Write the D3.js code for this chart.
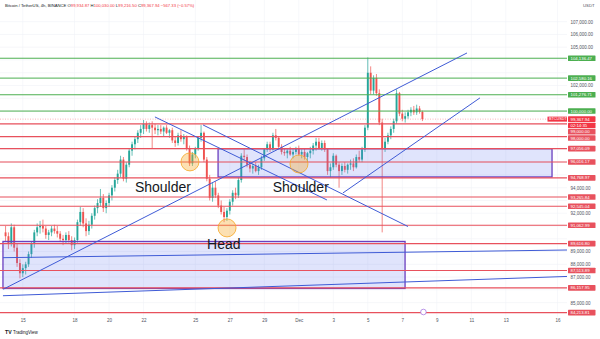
<!DOCTYPE html>
<html>
<head>
<meta charset="utf-8">
<script src="https://cdn.jsdelivr.net/npm/d3@7"></script>
<style>
  body { margin: 0; background: #fff; }
  svg text { font-family: "Liberation Sans", Arial, sans-serif; }
</style>
</head>
<body>
<div id="chart"></div>
<script>
/* BTC/USDT 4h chart, head & shoulders drawing */

const DAY = 864e5
const H4 = DAY / 6
const START = Date.UTC(2024, 10, 14) // first candle, Nov 14 00:00 UTC

// 4h candles, thousands of USDT: [open, high, low, close]
const candles = [
  // Nov 14
  [90.5,91.0,89.8,90.2],[90.2,90.5,89.2,89.6],[89.6,91.2,89.4,90.9],[90.9,91.1,89.0,89.3],[89.3,89.6,87.8,88.1],[88.1,88.4,86.9,87.3],
  // Nov 15
  [87.3,88.0,87.0,87.7],[87.7,88.2,87.2,88.0],[88.0,89.0,87.8,88.8],[88.8,89.8,88.5,89.6],[89.6,90.7,89.3,90.5],[90.5,91.2,90.2,90.9],
  // Nov 16
  [90.9,91.4,90.4,91.0],[91.0,91.5,90.5,90.8],[90.8,91.0,90.0,90.3],[90.3,90.7,89.9,90.5],[90.5,91.0,90.2,90.8],[90.8,91.1,90.4,90.6],
  // Nov 17
  [90.6,91.0,90.1,90.4],[90.4,90.6,89.8,90.0],[90.0,90.3,89.5,89.9],[89.9,90.5,89.6,90.3],[90.3,90.6,89.7,89.9],[89.9,90.2,89.1,89.5],
  // Nov 18
  [89.5,90.1,89.2,89.9],[89.9,91.5,89.7,91.3],[91.3,92.5,91.0,92.1],[92.1,92.4,90.9,91.2],[91.2,91.6,90.2,90.6],[90.6,91.4,90.3,91.1],
  // Nov 19
  [91.1,92.0,90.8,91.8],[91.8,92.6,91.5,92.4],[92.4,93.1,92.0,92.8],[92.8,93.9,92.5,93.2],[93.2,93.5,92.1,92.4],[92.4,93.0,92.0,92.8],
  // Nov 20
  [92.8,93.6,92.5,93.4],[93.4,94.2,93.0,94.0],[94.0,94.8,93.7,94.6],[94.6,95.4,94.3,95.1],[95.1,96.5,94.8,96.2],[96.2,96.4,94.5,94.7],
  // Nov 21
  [94.7,96.0,94.4,95.8],[95.8,97.1,95.6,96.9],[96.9,97.6,96.5,97.4],[97.4,98.0,97.0,97.8],[97.8,98.5,97.5,98.3],[98.3,98.9,97.9,98.6],
  // Nov 22
  [98.6,99.3,98.2,99.0],[99.0,99.2,98.4,98.6],[98.6,99.1,98.3,98.9],[98.9,99.2,97.1,98.7],[98.7,99.0,98.2,98.5],[98.5,98.9,98.1,98.6],
  // Nov 23
  [98.6,98.9,98.2,98.4],[98.4,98.8,98.0,98.7],[98.7,98.9,98.2,98.3],[98.3,98.6,97.9,98.5],[98.5,98.7,97.5,97.7],[97.7,98.0,97.2,97.5],
  // Nov 24
  [97.5,98.3,97.3,98.1],[98.1,98.5,97.6,97.8],[97.8,98.2,97.4,98.0],[98.0,98.1,96.9,97.1],[97.1,97.3,95.7,95.9],[95.9,96.8,95.7,96.6],
  // Nov 25
  [96.6,97.2,96.3,97.1],[97.1,98.0,96.9,97.9],[97.9,98.9,97.6,98.3],[98.3,98.4,96.0,96.2],[96.2,96.4,94.5,94.7],[94.7,95.0,93.0,93.2],
  // Nov 26
  [93.2,94.4,92.9,94.0],[94.0,94.5,93.2,93.4],[93.4,93.6,92.4,92.6],[92.6,93.0,91.9,92.1],[92.1,92.5,91.3,91.7],[91.7,92.4,91.4,92.2],
  // Nov 27
  [92.2,93.1,91.9,92.9],[92.9,93.8,92.6,93.6],[93.6,94.0,93.1,93.4],[93.4,94.8,93.2,94.6],[94.6,96.7,94.4,96.5],[96.5,97.0,96.1,96.4],
  // Nov 28
  [96.4,96.6,95.6,95.8],[95.8,96.1,95.2,95.5],[95.5,95.9,95.1,95.7],[95.7,96.0,95.2,95.3],[95.3,95.8,95.0,95.6],[95.6,96.5,95.4,96.3],
  // Nov 29
  [96.3,97.1,96.1,97.0],[97.0,97.6,96.8,97.4],[97.4,97.6,96.8,97.0],[97.0,98.3,96.9,98.1],[98.1,98.6,97.7,97.9],[97.9,98.0,97.0,97.2],
  // Nov 30
  [97.2,97.4,96.6,96.8],[96.8,97.1,96.5,96.7],[96.7,97.0,96.3,96.9],[96.9,97.2,96.5,96.6],[96.6,97.0,96.3,96.8],[96.8,97.2,96.6,97.0],
  // Dec 1
  [97.0,97.3,96.5,96.6],[96.6,97.0,96.3,96.8],[96.8,97.1,96.2,96.4],[96.4,96.8,96.0,96.7],[96.7,97.2,96.3,96.9],[96.9,97.5,96.6,97.3],
  // Dec 2
  [97.3,97.9,96.9,97.6],[97.6,97.9,97.0,97.1],[97.1,97.7,96.9,97.5],[97.5,97.7,96.8,97.0],[97.0,97.1,95.0,95.3],[95.3,95.9,94.8,95.6],
  // Dec 3
  [95.6,96.7,95.4,96.5],[96.5,96.6,95.6,95.8],[95.8,96.0,94.0,95.3],[95.3,95.9,95.0,95.7],[95.7,96.0,95.2,95.4],[95.4,95.9,95.1,95.8],
  // Dec 4
  [95.8,96.2,95.4,95.9],[95.9,96.3,95.3,95.6],[95.6,96.6,95.5,96.4],[96.4,96.9,96.0,96.2],[96.2,97.2,96.0,97.0],[97.0,98.9,96.8,98.7],
  // Dec 5
  [98.7,104.2,98.5,103.0],[103.0,103.5,101.3,101.6],[101.6,102.8,101.3,102.6],[102.6,102.9,101.2,101.4],[101.4,101.7,98.9,99.1],[99.1,99.4,90.5,97.1],
  // Dec 6
  [97.1,97.9,96.8,97.6],[97.6,98.3,97.4,98.1],[98.1,98.8,97.8,98.6],[98.6,99.4,98.3,99.2],[99.2,101.7,99.0,101.4],[101.4,101.5,99.6,99.8],
  // Dec 7
  [99.8,100.1,99.2,99.4],[99.4,99.9,99.1,99.6],[99.6,100.1,99.4,99.9],[99.9,100.3,99.6,100.1],[100.1,100.4,99.7,99.9],[99.9,100.5,99.7,100.2],
  // Dec 8
  [100.2,100.4,99.8,99.93],[99.93,100.03,99.216,99.368]
]

// horizontal levels (thousands)
const greenLevels = [104.13647, 102.58016, 101.27671, 100.0]
const redLevels = [99.0, 98.0, 97.05609, 96.01617, 94.76897, 93.26584, 92.54504, 91.06299, 89.6168, 87.51389, 86.15795, 84.21381]
const lastPrice = 99.36794
const countdown = "02:14:35"

// axis ticks
const priceTicks = d3.range(85, 108)
const dateTicks = ["2024-11-15","2024-11-18","2024-11-20","2024-11-22","2024-11-25","2024-11-27","2024-11-29",
  "2024-12-01","2024-12-03","2024-12-05","2024-12-07","2024-12-09","2024-12-11","2024-12-13","2024-12-16"]
const dateLabels = ["15","18","20","22","25","27","29","Dec","3","5","7","9","11","13","16"]

// drawings: days after START, prices in thousands
const trendLines = [
  [-0.13, 86.05, 26.75, 104.55],   // long rising line
  [19.56, 93.59, 27.5, 101.03],    // right rising line
  [8.66, 99.54, 18.63, 93.04],     // falling line 1
  [11.45, 98.91, 23.33, 90.96],    // falling line 2
  [-0.15, 88.52, 32.55, 89.12],    // flat line in lower box
  [-0.15, 85.54, 32.55, 87.05]     // flat line below box
]
const zones = [
  [12.32, 97.05, 31.68, 94.84],
  [-0.15, 89.79, 23.16, 86.11]
]
const pivots = [[10.69, 96.02], [12.84, 90.85], [17.01, 95.86]]
const notes = [["Shoulder", 7.5, 93.65], ["Head", 11.68, 89.2], ["Shoulder", 15.49, 93.65]]

const header = "Bitcoin / TetherUS, 4h, BINANCE"
const ohlcText = [["O", "99,934.87"], ["H", "100,030.00"], ["L", "99,216.50"], ["C", "99,367.94"], ["", "\u2212567.33 (\u22120.57%)"]]

/* chart area */

const WIDTH = 600, HEIGHT = 339
const PLOT_R = 567, PLOT_B = 317
const UP = "#26a69a", DOWN = "#ef5350"
const RED = "#e8515d", GREEN = "#4caf50", BLUE = "#3f5bd6"

const svg = d3.select("#chart").append("svg")
  .attr("width", WIDTH)
  .attr("height", HEIGHT)

svg.append("rect").attr("width", WIDTH).attr("height", HEIGHT).attr("fill", "#fff")

const x = d3.scaleUtc()
  .domain([START, START + 33 * DAY])
  .range([5.55, 5.55 + 33 * 17.25])
const y = d3.scaleLinear().domain([84, 108]).range([315.4, 8.9])
const t = d => START + d * DAY
const fmt = d3.format(",.2f")

svg.append("clipPath").attr("id", "plot-clip")
  .append("rect").attr("width", PLOT_R).attr("height", PLOT_B)

// grid
const grid = svg.append("g").attr("stroke", "#f0f2f6").attr("stroke-width", 0.6)
grid.selectAll(".gx").data(dateTicks).join("line")
  .attr("x1", d => x(new Date(d))).attr("x2", d => x(new Date(d)))
  .attr("y1", 0).attr("y2", PLOT_B)
grid.selectAll(".gy").data(priceTicks).join("line")
  .attr("x1", 0).attr("x2", PLOT_R)
  .attr("y1", d => y(d)).attr("y2", d => y(d))

const plot = svg.append("g").attr("clip-path", "url(#plot-clip)")

// candles
const candleG = plot.append("g")
candleG.selectAll("line").data(candles).join("line")
  .attr("x1", (d, i) => x(START + i * H4))
  .attr("x2", (d, i) => x(START + i * H4))
  .attr("y1", d => y(d[1]))
  .attr("y2", d => y(d[2]))
  .attr("stroke", d => d[3] >= d[0] ? UP : DOWN)
  .attr("stroke-width", 0.7)
candleG.selectAll("rect").data(candles).join("rect")
  .attr("x", (d, i) => x(START + i * H4) - 0.95)
  .attr("width", 1.9)
  .attr("y", d => y(Math.max(d[0], d[3])))
  .attr("height", d => Math.max(0.6, Math.abs(y(d[0]) - y(d[3]))))
  .attr("fill", d => d[3] >= d[0] ? UP : DOWN)

// boxes
plot.selectAll(".zone").data(zones).join("rect")
  .attr("class", "zone")
  .attr("x", d => x(t(d[0])))
  .attr("y", d => y(d[1]))
  .attr("width", d => x(t(d[2])) - x(t(d[0])))
  .attr("height", d => y(d[3]) - y(d[1]))
  .attr("fill", "rgba(98,118,238,0.2)")
  .attr("stroke", "#6a3fbf")
  .attr("stroke-width", 1.3)

// horizontal levels
plot.selectAll(".lvl-g").data(greenLevels).join("line")
  .attr("x1", 0).attr("x2", PLOT_R)
  .attr("y1", d => y(d)).attr("y2", d => y(d))
  .attr("stroke", GREEN).attr("stroke-width", 1)
plot.selectAll(".lvl-r").data(redLevels).join("line")
  .attr("x1", 0).attr("x2", PLOT_R)
  .attr("y1", d => y(d)).attr("y2", d => y(d))
  .attr("stroke", RED).attr("stroke-width", 1.1)

// current price line
plot.append("line")
  .attr("x1", 0).attr("x2", PLOT_R)
  .attr("y1", y(lastPrice)).attr("y2", y(lastPrice))
  .attr("stroke", "#f23645").attr("stroke-opacity", 0.6)
  .attr("stroke-dasharray", "1,1.5").attr("stroke-width", 0.6)

// trend lines
plot.selectAll(".trend").data(trendLines).join("line")
  .attr("x1", d => x(t(d[0]))).attr("y1", d => y(d[1]))
  .attr("x2", d => x(t(d[2]))).attr("y2", d => y(d[3]))
  .attr("stroke", BLUE).attr("stroke-width", 1)

// pivot circles
plot.selectAll(".pivot").data(pivots).join("circle")
  .attr("cx", d => x(t(d[0]))).attr("cy", d => y(d[1]))
  .attr("r", 9)
  .attr("fill", "rgba(245,166,35,0.35)")
  .attr("stroke", "#f5a623").attr("stroke-width", 0.8)

// labels
plot.selectAll(".note").data(notes).join("text")
  .attr("x", d => x(t(d[1]))).attr("y", d => y(d[2]))
  .attr("font-size", 14).attr("fill", "#131722")
  .text(d => d[0])

// event marker
svg.append("circle")
  .attr("cx", x(START + 145 * H4) + 1).attr("cy", 312)
  .attr("r", 2.8).attr("fill", "#fff")
  .attr("stroke", "#9c6ade").attr("stroke-width", 0.7)

/* axes */

const xAxis = svg.append("g")
  .attr("transform", `translate(0, ${PLOT_B})`)
  .call(d3.axisBottom(x)
    .tickValues(dateTicks.map(d => new Date(d)))
    .tickFormat((d, i) => dateLabels[i])
    .tickSize(0).tickPadding(1.5))
xAxis.select(".domain").remove()
xAxis.selectAll("text").attr("font-size", 4.5).attr("fill", "#50535e").attr("font-family", null)

// price labels on the right, pushed apart when they overlap
const tags = []
greenLevels.forEach(p => tags.push({ p, text: fmt(p * 1000), color: GREEN }))
redLevels.forEach(p => tags.push({ p, text: fmt(p * 1000), color: RED }))
tags.push({ p: lastPrice, text: fmt(lastPrice * 1000), color: "#f23645", last: true })
tags.sort((a, b) => b.p - a.p)
const cdIndex = tags.findIndex(d => d.last)
tags.splice(cdIndex + 1, 0, { p: lastPrice, text: countdown, color: "#f23645" })
let prev = -Infinity
tags.forEach(d => {
  d.y = Math.max(y(d.p), prev + 6.3)
  prev = d.y
})

const shownTicks = priceTicks.filter(p => tags.every(d => Math.abs(d.y - y(p)) >= 6))
const yAxis = svg.append("g")
  .attr("transform", `translate(${PLOT_R}, 0)`)
  .call(d3.axisRight(y).tickValues(shownTicks).tickFormat(d => fmt(d * 1000)).tickSize(0).tickPadding(3.5))
yAxis.select(".domain").remove()
yAxis.selectAll("text").attr("font-size", 4.5).attr("fill", "#50535e").attr("font-family", null)

const tagG = svg.append("g").selectAll("g").data(tags).join("g")
  .attr("transform", d => `translate(568, ${d.y})`)
tagG.append("rect")
  .attr("x", 0).attr("y", -2.8).attr("width", 27.5).attr("height", 5.6)
  .attr("rx", 0.6).attr("fill", d => d.color)
tagG.append("text")
  .attr("x", 2.5).attr("dy", "0.35em")
  .attr("font-size", 4.3).attr("fill", "#fff")
  .text(d => d.text)

// symbol tag on current price
const symTag = svg.append("g").attr("transform", `translate(547.5, ${y(lastPrice)})`)
symTag.append("rect").attr("y", -2.5).attr("width", 19.5).attr("height", 5).attr("fill", "#f23645")
symTag.append("text").attr("x", 1.5).attr("dy", "0.35em").attr("font-size", 3.8).attr("fill", "#fff").text("BTCUSDT")

svg.append("text").attr("x", 583).attr("y", 7).attr("font-size", 4.3).attr("fill", "#50535e").text("USDT")

/* header and logo */

const head = svg.append("text").attr("x", 5).attr("y", 7).attr("font-size", 4.2)
head.append("tspan").attr("fill", "#131722").text(header + "  ")
ohlcText.forEach(([k, v]) => {
  if (k) head.append("tspan").attr("fill", "#131722").text(k)
  head.append("tspan").attr("fill", "#f23645").text(v + " ")
})

const logo = svg.append("g").attr("transform", "translate(5, 331)")
logo.append("text").attr("y", 3.2).attr("font-size", 5.2).attr("font-weight", "bold").attr("fill", "#131722").text("TV")
logo.append("text").attr("x", 8).attr("y", 3).attr("font-size", 4.5).attr("fill", "#131722").text("TradingView")
</script>
</body>
</html>
